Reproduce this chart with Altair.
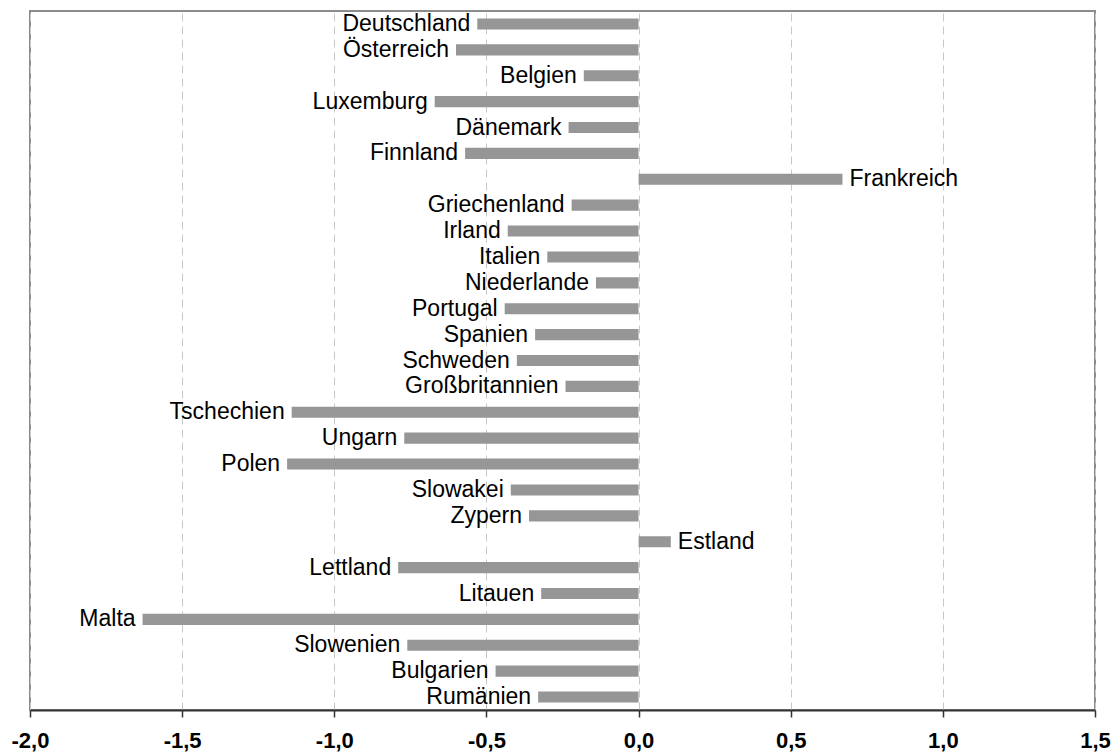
import altair as alt
import pandas as pd

countries = ["Deutschland", "Österreich", "Belgien", "Luxemburg", "Dänemark", "Finnland",
             "Frankreich", "Griechenland", "Irland", "Italien", "Niederlande", "Portugal",
             "Spanien", "Schweden", "Großbritannien", "Tschechien", "Ungarn", "Polen",
             "Slowakei", "Zypern", "Estland", "Lettland", "Litauen", "Malta", "Slowenien",
             "Bulgarien", "Rumänien"]
values = [-0.53, -0.60, -0.18, -0.67, -0.23, -0.57,
          0.67, -0.22, -0.43, -0.30, -0.14, -0.44,
          -0.34, -0.40, -0.24, -1.14, -0.77, -1.155,
          -0.42, -0.36, 0.106, -0.79, -0.32, -1.63, -0.76,
          -0.47, -0.33]
tick_values = [-2.0, -1.5, -1.0, -0.5, 0.0, 0.5, 1.0, 1.5]

df = pd.DataFrame({"land": countries, "wert": values})

FONT = "Liberation Sans"

x = alt.X("wert:Q",
          scale=alt.Scale(domain=[-2.0, 1.5], nice=False, zero=False),
          axis=alt.Axis(values=tick_values, title=None,
                        labelExpr="(datum.value < 0 ? '-' : '') + replace(format(abs(datum.value), '.1f'), '.', ',')",
                        labelFont="Arial", labelFontSize=22, labelFontWeight="bold",
                        labelColor="#000000", labelPadding=13, labelFlush=False,
                        labelOverlap=False, labelBaseline="top",
                        domainColor="#333333", domainWidth=2,
                        tickColor="#333333", tickSize=7, tickWidth=1.5,
                        grid=True, gridColor="#c8c8c8", gridDash=[8, 5], gridWidth=1))
y = alt.Y("land:N", sort=None,
          scale=alt.Scale(paddingInner=0.57, paddingOuter=0.285),
          axis=None)

base = alt.Chart(df)

bars = base.mark_bar(color="#969696").encode(x=x, x2=alt.datum(0), y=y)

neg_text = base.transform_filter("datum.wert < 0").mark_text(
    align="right", baseline="middle", dx=-7, font=FONT, fontSize=23, color="black"
).encode(x=alt.X("wert:Q"), y=alt.Y("land:N", sort=None), text="land:N")

pos_text = base.transform_filter("datum.wert >= 0").mark_text(
    align="left", baseline="middle", dx=7, font=FONT, fontSize=23, color="black"
).encode(x=alt.X("wert:Q"), y=alt.Y("land:N", sort=None), text="land:N")

chart = alt.layer(bars, neg_text, pos_text).properties(
    width=1065, height=699,
    autosize=alt.AutoSizeParams(type="none"),
    padding={"left": 30, "top": 11, "right": 22, "bottom": 46},
    background="white",
).configure_view(stroke="#8c8c8c", strokeWidth=2)

chart.save("out.html", embed_options={"renderer": "svg", "actions": False})
